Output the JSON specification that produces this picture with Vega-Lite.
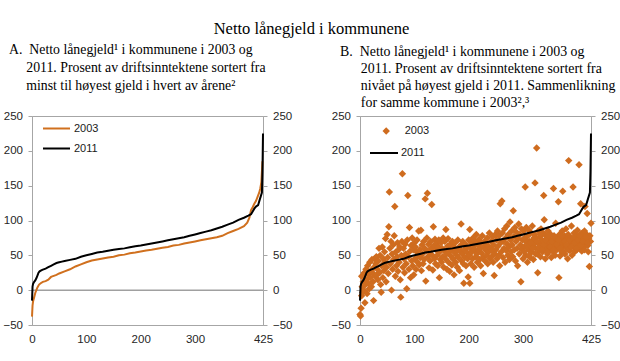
{
  "$schema": "https://vega.github.io/schema/vega-lite/v6.json",
  "padding": {"left": 2, "top": 20, "right": 2, "bottom": 2},
  "config": {
    "view": {"stroke": "#a6a6a6", "strokeWidth": 1},
    "axis": {"labelFont": "Liberation Sans", "labelFontSize": 11.5, "labelColor": "#262626", "domainColor": "#a6a6a6", "tickColor": "#a6a6a6", "grid": false},
    "legend": {"labelFont": "Liberation Sans", "labelFontSize": 11, "labelColor": "#1a1a1a", "padding": 0},
    "title": {"font": "Liberation Serif", "fontWeight": "normal", "color": "#000000"}
  },
  "title": {"text": "Netto lånegjeld i kommunene", "font": "Liberation Serif", "fontSize": 16.5, "anchor": "middle", "offset": 5.5},
  "datasets": {
    "a11": [
      {"k":0,"v":-15},{"k":1,"v":5},{"k":2,"v":9},{"k":4,"v":12},{"k":6,"v":14},{"k":8,"v":17},{"k":10,"v":21},{"k":12,"v":25},{"k":14,"v":27},{"k":17,"v":28.5},{"k":20,"v":29.5},{"k":25,"v":31},{"k":30,"v":33},{"k":35,"v":35},{"k":40,"v":37},{"k":45,"v":39},{"k":50,"v":40},{"k":55,"v":41},{"k":60,"v":42},{"k":70,"v":43.5},{"k":80,"v":45},{"k":90,"v":48},{"k":100,"v":50},{"k":110,"v":52},{"k":120,"v":54},{"k":130,"v":55},{"k":140,"v":56.5},{"k":150,"v":58},{"k":160,"v":59},{"k":170,"v":60},{"k":180,"v":61.5},{"k":190,"v":63},{"k":200,"v":64},{"k":210,"v":65.5},{"k":220,"v":67},{"k":230,"v":68.5},{"k":240,"v":70},{"k":250,"v":71.5},{"k":260,"v":73},{"k":270,"v":74.5},{"k":280,"v":76},{"k":290,"v":78},{"k":300,"v":80},{"k":310,"v":82},{"k":320,"v":84},{"k":330,"v":86},{"k":340,"v":88.5},{"k":350,"v":91},{"k":360,"v":94},{"k":370,"v":97},{"k":380,"v":101},{"k":390,"v":104},{"k":398,"v":107},{"k":403,"v":109},{"k":406,"v":113},{"k":409,"v":117},{"k":412,"v":120},{"k":416,"v":122},{"k":419,"v":130},{"k":421,"v":135},{"k":423,"v":140},{"k":424,"v":170},{"k":425,"v":225}
    ],
    "a03": [
      {"k":0,"v":-38},{"k":1,"v":-22},{"k":2,"v":-16},{"k":4,"v":-10},{"k":6,"v":-4},{"k":8,"v":0},{"k":10,"v":4},{"k":13,"v":8},{"k":16,"v":10},{"k":20,"v":12},{"k":25,"v":13},{"k":30,"v":15},{"k":35,"v":19},{"k":40,"v":20.5},{"k":45,"v":22},{"k":50,"v":24},{"k":60,"v":27},{"k":70,"v":30},{"k":80,"v":34},{"k":90,"v":37},{"k":100,"v":40},{"k":110,"v":42.5},{"k":120,"v":44},{"k":130,"v":45.5},{"k":140,"v":47},{"k":150,"v":48},{"k":160,"v":50},{"k":170,"v":51},{"k":180,"v":53},{"k":190,"v":54},{"k":200,"v":55.5},{"k":210,"v":57},{"k":220,"v":58},{"k":230,"v":59.5},{"k":240,"v":61},{"k":250,"v":62},{"k":260,"v":64},{"k":270,"v":65},{"k":280,"v":67},{"k":290,"v":68.5},{"k":300,"v":70},{"k":310,"v":71.5},{"k":320,"v":73},{"k":330,"v":74.5},{"k":340,"v":76},{"k":350,"v":78},{"k":360,"v":82},{"k":370,"v":85},{"k":380,"v":88},{"k":390,"v":92},{"k":396,"v":97},{"k":400,"v":104},{"k":403,"v":115},{"k":406,"v":119},{"k":409,"v":124},{"k":412,"v":128},{"k":415,"v":134},{"k":418,"v":140},{"k":420,"v":146},{"k":422,"v":155},{"k":424,"v":185}
    ],
    "b03": [
      {"k":0,"v":-35},{"k":1,"v":-37},{"k":2,"v":-26},{"k":3,"v":-8},{"k":3,"v":20},{"k":4,"v":5},{"k":5,"v":-3},{"k":6,"v":12},{"k":7,"v":0},{"k":8,"v":25},{"k":9,"v":-18},{"k":10,"v":8},{"k":11,"v":30},{"k":12,"v":15},{"k":13,"v":-5},{"k":14,"v":35},{"k":15,"v":10},{"k":16,"v":22},{"k":17,"v":2},{"k":18,"v":40},{"k":19,"v":18},{"k":20,"v":28},{"k":21,"v":5},{"k":22,"v":44},{"k":23,"v":25},{"k":24,"v":12},{"k":25,"v":-15},{"k":26,"v":33},{"k":27,"v":45},{"k":28,"v":20},{"k":29,"v":38},
      {"k":30,"v":48},{"k":31,"v":22},{"k":32,"v":30},{"k":33,"v":15},{"k":34,"v":42},{"k":35,"v":60},{"k":36,"v":25},{"k":37,"v":50},{"k":38,"v":8},{"k":39,"v":-3},{"k":40,"v":35},{"k":41,"v":62},{"k":42,"v":18},{"k":43,"v":45},{"k":44,"v":28},{"k":45,"v":55},{"k":46,"v":40},{"k":47,"v":74},{"k":48,"v":12},{"k":49,"v":33},{"k":50,"v":80},{"k":51,"v":47},{"k":52,"v":24},{"k":53,"v":91},{"k":54,"v":141},{"k":55,"v":60},{"k":56,"v":38},{"k":57,"v":70},{"k":58,"v":0},{"k":59,"v":52},{"k":60,"v":30},
      {"k":61,"v":65},{"k":62,"v":44},{"k":63,"v":78},{"k":64,"v":120},{"k":65,"v":20},{"k":66,"v":55},{"k":67,"v":35},{"k":68,"v":48},{"k":69,"v":68},{"k":70,"v":27},{"k":71,"v":58},{"k":72,"v":40},{"k":73,"v":62},{"k":74,"v":15},{"k":75,"v":-10},{"k":76,"v":50},{"k":77,"v":70},{"k":78,"v":167},{"k":79,"v":33},{"k":80,"v":60},{"k":81,"v":45},{"k":82,"v":25},{"k":83,"v":66},{"k":84,"v":52},{"k":85,"v":38},{"k":86,"v":2},{"k":87,"v":72},{"k":88,"v":136},{"k":89,"v":48},{"k":90,"v":30},{"k":91,"v":90},{"k":92,"v":56},{"k":93,"v":18},{"k":94,"v":64},{"k":95,"v":42},{"k":96,"v":75},{"k":97,"v":35},{"k":98,"v":58},{"k":99,"v":22},{"k":100,"v":68},
      {"k":101,"v":45},{"k":102,"v":62},{"k":103,"v":30},{"k":104,"v":55},{"k":105,"v":72},{"k":106,"v":40},{"k":107,"v":50},{"k":108,"v":85},{"k":109,"v":36},{"k":110,"v":58},{"k":111,"v":47},{"k":112,"v":86},{"k":113,"v":28},{"k":114,"v":65},{"k":115,"v":52},{"k":116,"v":38},{"k":117,"v":70},{"k":118,"v":44},{"k":119,"v":60},{"k":120,"v":131},{"k":121,"v":13},{"k":122,"v":57},{"k":123,"v":75},{"k":124,"v":139},{"k":125,"v":48},{"k":126,"v":66},{"k":127,"v":32},{"k":128,"v":55},{"k":129,"v":42},{"k":130,"v":70},{"k":131,"v":60},{"k":132,"v":123},{"k":133,"v":50},{"k":134,"v":29},{"k":135,"v":91},{"k":136,"v":64},{"k":137,"v":45},{"k":138,"v":73},{"k":139,"v":38},{"k":140,"v":58},{"k":141,"v":67},{"k":142,"v":50},{"k":143,"v":35},{"k":144,"v":62},{"k":145,"v":72},{"k":146,"v":18},{"k":147,"v":55},{"k":148,"v":44},{"k":149,"v":68},{"k":150,"v":40},
      {"k":151,"v":60},{"k":152,"v":48},{"k":153,"v":75},{"k":154,"v":33},{"k":155,"v":57},{"k":156,"v":70},{"k":157,"v":45},{"k":158,"v":87},{"k":159,"v":52},{"k":160,"v":30},{"k":161,"v":63},{"k":162,"v":74},{"k":163,"v":40},{"k":164,"v":55},{"k":165,"v":27},{"k":166,"v":66},{"k":167,"v":49},{"k":168,"v":58},{"k":169,"v":36},{"k":170,"v":70},{"k":171,"v":45},{"k":172,"v":62},{"k":173,"v":22},{"k":174,"v":54},{"k":175,"v":68},{"k":176,"v":40},{"k":177,"v":59},{"k":178,"v":50},{"k":179,"v":33},{"k":180,"v":72},{"k":181,"v":47},{"k":182,"v":60},{"k":183,"v":28},{"k":184,"v":56},{"k":185,"v":64},{"k":186,"v":95},{"k":187,"v":42},{"k":188,"v":52},{"k":189,"v":70},{"k":190,"v":38},{"k":191,"v":10},{"k":192,"v":58},{"k":193,"v":47},{"k":194,"v":66},{"k":195,"v":35},{"k":196,"v":55},{"k":197,"v":62},{"k":198,"v":45},{"k":199,"v":19},{"k":200,"v":72},
      {"k":201,"v":50},{"k":202,"v":87},{"k":202,"v":10},{"k":203,"v":60},{"k":204,"v":38},{"k":205,"v":68},{"k":206,"v":55},{"k":207,"v":45},{"k":208,"v":75},{"k":209,"v":62},{"k":210,"v":33},{"k":211,"v":58},{"k":212,"v":70},{"k":213,"v":48},{"k":214,"v":80},{"k":215,"v":52},{"k":216,"v":40},{"k":217,"v":65},{"k":218,"v":57},{"k":219,"v":73},{"k":220,"v":44},{"k":221,"v":60},{"k":222,"v":35},{"k":223,"v":68},{"k":224,"v":53},{"k":225,"v":78},{"k":226,"v":47},{"k":227,"v":24},{"k":228,"v":62},{"k":229,"v":70},{"k":230,"v":42},{"k":231,"v":58},{"k":232,"v":66},{"k":233,"v":50},{"k":234,"v":75},{"k":235,"v":38},{"k":236,"v":63},{"k":237,"v":55},{"k":238,"v":82},{"k":239,"v":45},{"k":240,"v":60},{"k":241,"v":70},{"k":242,"v":48},{"k":243,"v":57},{"k":244,"v":77},{"k":245,"v":40},{"k":246,"v":65},{"k":247,"v":21},{"k":248,"v":52},{"k":249,"v":80},{"k":250,"v":58},
      {"k":251,"v":72},{"k":252,"v":45},{"k":253,"v":85},{"k":254,"v":63},{"k":255,"v":50},{"k":256,"v":78},{"k":257,"v":35},{"k":258,"v":124},{"k":259,"v":68},{"k":260,"v":55},{"k":261,"v":128},{"k":262,"v":82},{"k":263,"v":47},{"k":264,"v":70},{"k":265,"v":60},{"k":266,"v":88},{"k":267,"v":40},{"k":268,"v":75},{"k":269,"v":57},{"k":270,"v":92},{"k":271,"v":66},{"k":272,"v":50},{"k":273,"v":80},{"k":274,"v":62},{"k":275,"v":44},{"k":276,"v":98},{"k":277,"v":72},{"k":278,"v":55},{"k":279,"v":85},{"k":280,"v":65},{"k":281,"v":48},{"k":282,"v":114},{"k":283,"v":77},{"k":284,"v":58},{"k":285,"v":90},{"k":286,"v":42},{"k":287,"v":70},{"k":288,"v":83},{"k":289,"v":60},{"k":290,"v":35},{"k":291,"v":74},{"k":292,"v":95},{"k":293,"v":52},{"k":294,"v":80},{"k":295,"v":65},{"k":296,"v":12},{"k":297,"v":88},{"k":298,"v":58},{"k":299,"v":72},{"k":300,"v":45},
      {"k":301,"v":85},{"k":302,"v":62},{"k":303,"v":75},{"k":304,"v":148},{"k":305,"v":50},{"k":306,"v":90},{"k":307,"v":68},{"k":308,"v":40},{"k":309,"v":78},{"k":310,"v":58},{"k":311,"v":86},{"k":312,"v":70},{"k":313,"v":47},{"k":314,"v":82},{"k":315,"v":64},{"k":316,"v":55},{"k":317,"v":92},{"k":318,"v":72},{"k":319,"v":44},{"k":320,"v":66},{"k":321,"v":80},{"k":322,"v":154},{"k":323,"v":60},{"k":324,"v":75},{"k":325,"v":204},{"k":326,"v":52},{"k":327,"v":25},{"k":328,"v":85},{"k":329,"v":68},{"k":330,"v":58},{"k":331,"v":77},{"k":332,"v":48},{"k":333,"v":88},{"k":334,"v":63},{"k":335,"v":72},{"k":336,"v":55},{"k":337,"v":82},{"k":338,"v":136},{"k":339,"v":101},{"k":340,"v":66},{"k":341,"v":45},{"k":342,"v":78},{"k":343,"v":60},{"k":344,"v":70},{"k":345,"v":52},{"k":346,"v":85},{"k":347,"v":64},{"k":348,"v":74},{"k":349,"v":57},{"k":350,"v":68},
      {"k":351,"v":80},{"k":352,"v":47},{"k":353,"v":62},{"k":354,"v":72},{"k":355,"v":55},{"k":356,"v":146},{"k":357,"v":78},{"k":358,"v":65},{"k":359,"v":50},{"k":360,"v":96},{"k":361,"v":70},{"k":362,"v":58},{"k":363,"v":75},{"k":364,"v":62},{"k":365,"v":127},{"k":366,"v":18},{"k":367,"v":80},{"k":368,"v":49},{"k":369,"v":67},{"k":370,"v":74},{"k":371,"v":55},{"k":372,"v":85},{"k":373,"v":142},{"k":374,"v":62},{"k":375,"v":70},{"k":376,"v":78},{"k":377,"v":52},{"k":378,"v":66},{"k":379,"v":88},{"k":380,"v":60},{"k":381,"v":73},{"k":382,"v":45},{"k":383,"v":80},{"k":384,"v":186},{"k":385,"v":65},{"k":386,"v":57},{"k":387,"v":76},{"k":388,"v":68},{"k":389,"v":92},{"k":390,"v":50},{"k":391,"v":72},{"k":392,"v":148},{"k":393,"v":62},{"k":394,"v":82},{"k":395,"v":55},{"k":396,"v":70},{"k":397,"v":64},{"k":398,"v":78},{"k":399,"v":58},{"k":400,"v":86},{"k":401,"v":67},{"k":402,"v":74},{"k":403,"v":180},{"k":404,"v":60},{"k":405,"v":80},{"k":406,"v":124},{"k":407,"v":70},{"k":408,"v":56},{"k":409,"v":82},{"k":410,"v":65},{"k":411,"v":75},{"k":412,"v":62},{"k":413,"v":85},{"k":414,"v":120},{"k":415,"v":72},{"k":416,"v":68},{"k":417,"v":80},{"k":418,"v":110},{"k":419,"v":64},{"k":420,"v":55},{"k":421,"v":75},{"k":422,"v":34},{"k":423,"v":78},{"k":424,"v":70},{"k":425,"v":96},
      {"k":302,"v":55},{"k":305,"v":72},{"k":308,"v":63},{"k":311,"v":50},{"k":314,"v":68},{"k":317,"v":60},{"k":320,"v":75},{"k":323,"v":52},{"k":326,"v":70},{"k":329,"v":62},{"k":332,"v":80},{"k":335,"v":58},{"k":338,"v":65},{"k":341,"v":72},{"k":344,"v":55},{"k":347,"v":78},{"k":350,"v":62},{"k":353,"v":70},{"k":356,"v":58},{"k":359,"v":75},{"k":362,"v":66},{"k":365,"v":72},{"k":368,"v":60},{"k":371,"v":78},{"k":374,"v":55},{"k":377,"v":70},{"k":380,"v":65},{"k":383,"v":58},{"k":386,"v":72},{"k":389,"v":62},{"k":392,"v":75},{"k":395,"v":68},{"k":398,"v":60},{"k":401,"v":72},{"k":404,"v":78},{"k":407,"v":64},{"k":410,"v":70},{"k":413,"v":58},{"k":416,"v":76},{"k":419,"v":68}
    ]
  },
  "bounds": "flush",
  "spacing": 97,
  "resolve": {"scale": {"color": "independent", "fill": "independent", "stroke": "independent", "x": "independent", "y": "independent"}},
  "hconcat": [
    {
      "width": 231,
      "height": 209,
      "title": {
        "text": ["A.\u00a0\u00a0Netto lånegjeld¹ i kommunene i 2003 og", "\u200b\u00a0\u00a0\u00a0\u00a0\u00a02011. Prosent av driftsinntektene sortert fra", "\u200b\u00a0\u00a0\u00a0\u00a0\u00a0minst til høyest gjeld i hvert av årene²"],
        "font": "Liberation Serif", "fontWeight": "normal", "color": "#000000",
        "fontSize": 13.8, "lineHeight": 18, "anchor": "start", "frame": "group", "dx": -23, "offset": 17
      },
      "resolve": {"axis": {"y": "independent"}},
      "layer": [
        {
          "data": {"values": [{"z": 0}]},
          "mark": {"type": "rule", "color": "#a0a0a0", "strokeWidth": 1.5},
          "encoding": {"y": {"field": "z", "type": "quantitative", "scale": {"domain": [-50, 250], "nice": false}, "axis": null}}
        },
        {
          "data": {"name": "a03"},
          "mark": {"type": "line", "strokeWidth": 2},
          "encoding": {
            "x": {"field": "k", "type": "quantitative", "scale": {"domain": [0, 425], "nice": false}, "axis": {"title": null, "values": [0, 50, 100, 150, 200, 250, 300, 350, 425], "ticks": false, "labelPadding": 8, "labelFlush": false}},
            "y": {"field": "v", "type": "quantitative", "scale": {"domain": [-50, 250], "nice": false}, "axis": {"orient": "left", "title": null, "values": [-50, 0, 50, 100, 150, 200, 250], "tickSize": 4, "labelPadding": 5.5}},
            "color": {"datum": "2003", "scale": {"domain": ["2003", "2011"], "range": ["#d0701e", "#000000"]}, "legend": {"title": null, "orient": "none", "legendX": 10, "legendY": -2, "symbolType": "stroke", "symbolSize": 729, "symbolStrokeWidth": 2, "rowPadding": -6, "labelOffset": 3}}
          }
        },
        {
          "data": {"name": "a11"},
          "mark": {"type": "line", "strokeWidth": 2},
          "encoding": {
            "x": {"field": "k", "type": "quantitative"},
            "y": {"field": "v", "type": "quantitative", "axis": {"orient": "right", "title": null, "values": [-50, 0, 50, 100, 150, 200, 250], "tickSize": 4, "labelPadding": 5.5}},
            "color": {"datum": "2011"}
          }
        }
      ]
    },
    {
      "width": 231,
      "height": 209,
      "title": {
        "text": ["B.\u00a0\u00a0Netto lånegjeld¹ i kommunene i 2003 og", "\u200b\u00a0\u00a0\u00a0\u00a0\u00a0\u00a02011. Prosent av driftsinntektene sortert fra", "\u200b\u00a0\u00a0\u00a0\u00a0\u00a0\u00a0nivået på høyest gjeld i 2011. Sammenlikning", "\u200b\u00a0\u00a0\u00a0\u00a0\u00a0\u00a0for samme kommune i 2003²,³"],
        "font": "Liberation Serif", "fontWeight": "normal", "color": "#000000",
        "fontSize": 13.9, "lineHeight": 17, "anchor": "start", "frame": "group", "dx": -20, "offset": 0
      },
      "resolve": {"axis": {"y": "independent"}},
      "layer": [
        {
          "data": {"values": [{"z": 0}]},
          "mark": {"type": "rule", "color": "#a0a0a0", "strokeWidth": 1.5},
          "encoding": {"y": {"field": "z", "type": "quantitative", "scale": {"domain": [-50, 250], "nice": false}, "axis": null}}
        },
        {
          "data": {"name": "b03"},
          "mark": {"type": "point", "shape": "diamond", "filled": true, "size": 55, "opacity": 1},
          "encoding": {
            "x": {"field": "k", "type": "quantitative", "scale": {"domain": [0, 425], "nice": false}, "axis": {"title": null, "values": [0, 50, 100, 150, 200, 250, 300, 350, 425], "ticks": false, "labelPadding": 8, "labelFlush": false}},
            "y": {"field": "v", "type": "quantitative", "scale": {"domain": [-50, 250], "nice": false}, "axis": {"orient": "left", "title": null, "values": [-50, 0, 50, 100, 150, 200, 250], "tickSize": 4, "labelPadding": 5.5}},
            "fill": {"datum": "2003", "scale": {"domain": ["2003"], "range": ["#cf6c1f"]}, "legend": {"title": null, "orient": "none", "legendX": 20.7, "legendY": 9.5, "symbolType": "diamond", "symbolSize": 55, "labelOffset": 13}}
          }
        },
        {
          "data": {"name": "a11"},
          "mark": {"type": "line", "strokeWidth": 2},
          "encoding": {
            "x": {"field": "k", "type": "quantitative"},
            "y": {"field": "v", "type": "quantitative", "axis": {"orient": "right", "title": null, "values": [-50, 0, 50, 100, 150, 200, 250], "tickSize": 4, "labelPadding": 5.5}},
            "stroke": {"datum": "2011", "scale": {"domain": ["2011"], "range": ["#000000"]}, "legend": {"title": null, "orient": "none", "legendX": 9, "legendY": 22, "symbolType": "stroke", "symbolSize": 784, "symbolStrokeWidth": 2, "labelOffset": 2}}
          }
        }
      ]
    }
  ]
}
